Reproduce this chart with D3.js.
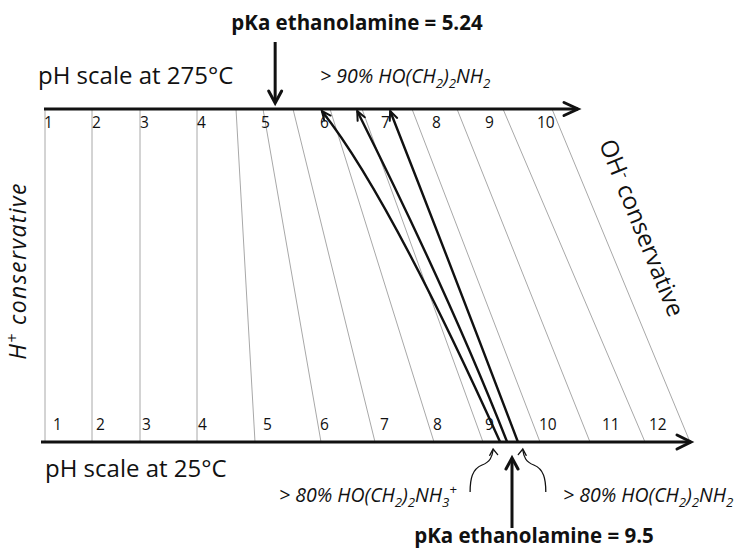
<!DOCTYPE html>
<html>
<head>
<meta charset="utf-8">
<script src="https://cdn.jsdelivr.net/npm/d3@7"></script>
<style>
  body { margin: 0; background: #fff; }
  svg { display: block; }
  text { font-family: "Open Sans", "DejaVu Sans", sans-serif; fill: #111; }
</style>
</head>
<body>
<svg id="chart" width="739" height="550"></svg>
<script>
// pH tick labels on the two scales
const ticks25 = [1, 2, 3, 4, 5, 6, 7, 8, 9, 10, 11, 12];
const ticks275 = [1, 2, 3, 4, 5, 6, 7, 8, 9, 10];

// where each tick label sits along its axis (axis units)
const tickPos25 = [0.24, 1.10, 2.02, 3.14, 4.44, 5.58, 6.78, 7.84, 8.88, 9.96, 11.22, 12.16];
const tickPos275 = [0.06, 1.02, 1.98, 3.12, 4.40, 5.58, 6.80, 7.82, 8.88, 9.92];

// correspondence lines: same solution at 25 °C (bottom) and at 275 °C (top), axis units
const gridAt25 = [0.08, 1.02, 1.98, 3.12, 4.28, 5.60, 6.68, 7.86, 8.84, 9.98, 10.98, 12.08, 12.98];
const gridAt275 = [0.08, 1.02, 1.98, 3.12, 3.90, 4.44, 5.04, 5.78, 6.42, 7.42, 8.32, 9.24, 10.22];

// ethanolamine pKa at each temperature
const pKa25 = 9.5;
const pKa275 = 5.24;

// ethanolamine solutions followed from 25 °C to 275 °C (pH)
const tracePH25 = [9.28, 9.41, 9.61];
const tracePH275 = [6.03, 6.61, 7.18];

// speciation limits marked on the 25 °C scale (pH)
const speciationPH25 = [9.15, 9.70];

// ---------------------------------------------------------------
const svg = d3.select("#chart");
const x = d3.scaleLinear().domain([0, 13]).range([41, 691]);
const ph25 = d3.scaleLinear().domain(ticks25).range(tickPos25);
const ph275 = d3.scaleLinear().domain(ticks275).range(tickPos275);

const yTop = 109, yBot = 442;
const ink = "#111";

// open chevron arrow head with its tip at (tx, ty), pointing along angle (radians)
function chevron(g, tx, ty, ang, len, half, sw) {
  const c = Math.cos(ang), s = Math.sin(ang);
  const bx = tx - c * len, by = ty - s * len;
  const p1 = [bx - s * half, by + c * half];
  const p2 = [bx + s * half, by - c * half];
  g.append("path")
    .attr("d", `M${p1[0]},${p1[1]}L${tx},${ty}L${p2[0]},${p2[1]}`)
    .attr("fill", "none").attr("stroke", ink).attr("stroke-width", sw)
    .attr("stroke-linejoin", "miter").attr("stroke-linecap", "round");
}

// text with sub/superscript runs
function rich(t, parts) {
  let shift = 0;
  parts.forEach(([str, mode]) => {
    const target = mode === "sub" ? 5 : mode === "sup" ? -8 : 0;
    const ts = t.append("tspan").text(str).attr("dy", target - shift);
    if (mode) ts.attr("font-size", "0.68em");
    shift = target;
  });
}

// correspondence grid
svg.append("g").selectAll("line").data(gridAt25).join("line")
  .attr("x1", d => x(d)).attr("y1", yBot)
  .attr("x2", (d, i) => x(gridAt275[i])).attr("y2", yTop)
  .attr("stroke", "#a8a8a8").attr("stroke-width", 1);

// axes
const axes = svg.append("g");
axes.append("line").attr("x1", x(0.06)).attr("x2", x(10.74)).attr("y1", yTop).attr("y2", yTop)
  .attr("stroke", ink).attr("stroke-width", 2.8);
chevron(axes, x(10.74), yTop, 0, 14, 6.5, 3);
axes.append("line").attr("x1", x(0)).attr("x2", x(13)).attr("y1", yBot).attr("y2", yBot)
  .attr("stroke", ink).attr("stroke-width", 2.8);
chevron(axes, x(13), yBot, 0, 14, 7, 3);

// tick labels
svg.append("g").selectAll("text").data(ticks275).join("text")
  .attr("x", (d, i) => x(tickPos275[i])).attr("y", 128)
  .attr("font-size", 15.5).text(d => d);
svg.append("g").selectAll("text").data(ticks25).join("text")
  .attr("x", (d, i) => x(tickPos25[i])).attr("y", 430)
  .attr("font-size", 15.5).text(d => d);

// solutions traced between the two temperatures
const traces = svg.append("g");
const bends = [[0.72, 19], [0.42, 8], [0.5, 1]];
tracePH25.forEach((p, i) => {
  const P0 = [x(ph25(p)), yBot];
  const P2 = [x(ph275(tracePH275[i])), yTop + 2];
  const D = [P2[0] - P0[0], P2[1] - P0[1]];
  const L = Math.hypot(D[0], D[1]);
  const n = [-D[1] / L, D[0] / L];
  const [a, b] = bends[i];
  const C = [P0[0] + a * D[0] + b * n[0], P0[1] + a * D[1] + b * n[1]];
  traces.append("path")
    .attr("d", `M${P0[0]},${P0[1]}Q${C[0]},${C[1]} ${P2[0]},${P2[1]}`)
    .attr("fill", "none").attr("stroke", ink).attr("stroke-width", 2.4);
  chevron(traces, P2[0], P2[1], Math.atan2(P2[1] - C[1], P2[0] - C[0]), 9, 4, 2);
});

// pKa arrows
const pk = svg.append("g");
const xk275 = x(ph275(pKa275));
pk.append("line").attr("x1", xk275).attr("x2", xk275).attr("y1", 42).attr("y2", 102)
  .attr("stroke", ink).attr("stroke-width", 3);
chevron(pk, xk275, 103, Math.PI / 2, 12, 6.5, 3);
const xk25 = x(ph25(pKa25));
pk.append("line").attr("x1", xk25).attr("x2", xk25).attr("y1", 528).attr("y2", 459)
  .attr("stroke", ink).attr("stroke-width", 3);
chevron(pk, xk25, 458, -Math.PI / 2, 11, 6, 3);

// curly pointers to the speciation limits
speciationPH25.forEach((p, i) => {
  const tx = x(ph25(p)), ty = 449;
  const m = i === 0 ? 1 : -1;
  const g = svg.append("g").attr("transform", `translate(${tx},${ty}) scale(${m},1)`);
  g.append("path")
    .attr("d", "M-23,43 C-23,30 -21,20 -11,16 C-3,13 -1,8 0,1")
    .attr("fill", "none").attr("stroke", ink).attr("stroke-width", 1.3);
  chevron(g, 0, 0, -Math.PI / 2 - 0.1, 6, 4, 1.3);
});

// titles and labels
svg.append("text").attr("x", 357).attr("y", 30).attr("text-anchor", "middle")
  .attr("font-size", 20.5).attr("font-weight", 700).text("pKa ethanolamine = 5.24");
svg.append("text").attr("x", 534).attr("y", 543).attr("text-anchor", "middle")
  .attr("font-size", 20.5).attr("font-weight", 700).text("pKa ethanolamine = 9.5");

svg.append("text").attr("x", 38).attr("y", 84).attr("font-size", 24).text("pH scale at 275°C");
svg.append("text").attr("x", 45).attr("y", 477).attr("font-size", 24).text("pH scale at 25°C");

rich(svg.append("text").attr("x", 320).attr("y", 83).attr("font-size", 19.5).attr("font-style", "italic"),
  [["> 90% HO(CH"], ["2", "sub"], [")"], ["2", "sub"], ["NH"], ["2", "sub"]]);
rich(svg.append("text").attr("x", 279).attr("y", 502).attr("font-size", 19.5).attr("font-style", "italic"),
  [["> 80% HO(CH"], ["2", "sub"], [")"], ["2", "sub"], ["NH"], ["3", "sub"], ["+", "sup"]]);
rich(svg.append("text").attr("x", 563).attr("y", 502).attr("font-size", 19.5).attr("font-style", "italic"),
  [["> 80% HO(CH"], ["2", "sub"], [")"], ["2", "sub"], ["NH"], ["2", "sub"]]);

rich(svg.append("text").attr("transform", "translate(26,271) rotate(-90)")
  .attr("text-anchor", "middle").attr("font-size", 23).attr("letter-spacing", 1.4)
  .attr("font-style", "italic"),
  [["H"], ["+", "sup"], [" conservative"]]);
rich(svg.append("text").attr("transform", "translate(634,231) rotate(68)")
  .attr("text-anchor", "middle").attr("font-size", 24),
  [["OH"], ["-", "sup"], [" conservative"]]);
</script>
</body>
</html>
